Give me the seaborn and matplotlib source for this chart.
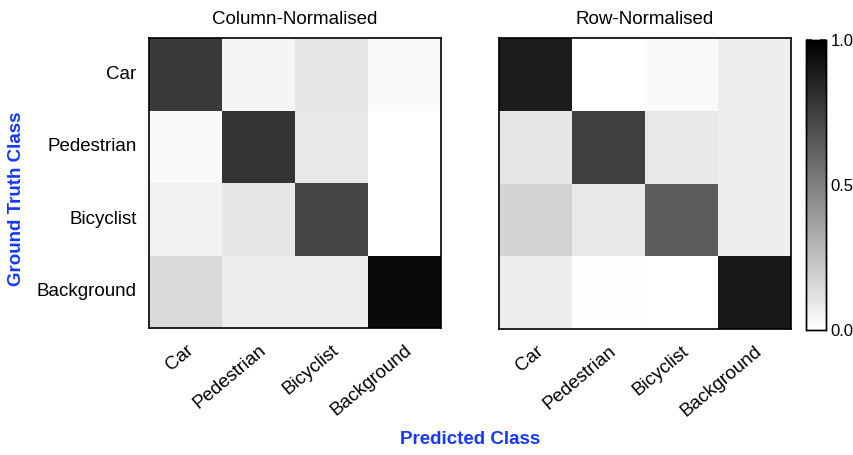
import numpy as np
import pandas as pd
import matplotlib
matplotlib.use("Agg")
import matplotlib.pyplot as plt
import seaborn as sns
from matplotlib.ticker import MultipleLocator

sns.set_theme(style="white")
plt.rcParams['font.family'] = ['Liberation Sans', 'DejaVu Sans']
plt.rcParams['text.color'] = 'black'
plt.rcParams['xtick.color'] = 'black'
plt.rcParams['ytick.color'] = 'black'
plt.rcParams['axes.labelcolor'] = 'black'

classes = ["Car", "Pedestrian", "Bicyclist", "Background"]
col_norm = [
    [0.77, 0.04, 0.10, 0.02],
    [0.02, 0.80, 0.09, 0.00],
    [0.055, 0.10, 0.73, 0.00],
    [0.145, 0.07, 0.07, 0.96],
]
row_norm = [
    [0.89, 0.00, 0.02, 0.07],
    [0.10, 0.75, 0.09, 0.07],
    [0.17, 0.09, 0.64, 0.07],
    [0.07, 0.005, 0.00, 0.91],
]

W, H = 854, 455
fig = plt.figure(figsize=(W / 100, H / 100), dpi=100)
ax1 = fig.add_axes([149 / W, 1 - 328 / H, 292 / W, 290 / H])
ax2 = fig.add_axes([499 / W, 1 - 329 / H, 292 / W, 291 / H])
cax = fig.add_axes([806 / W, 1 - 330 / H, 20 / W, 290 / H])

df1 = pd.DataFrame(col_norm, index=classes, columns=classes)
df2 = pd.DataFrame(row_norm, index=classes, columns=classes)

sns.heatmap(df1, ax=ax1, cmap="gray_r", vmin=0, vmax=1, cbar=False)
sns.heatmap(df2, ax=ax2, cmap="gray_r", vmin=0, vmax=1, cbar=True, cbar_ax=cax)

for ax, title in [(ax1, "Column-Normalised"), (ax2, "Row-Normalised")]:
    ax.set_title(title, fontsize=13.5, pad=10, color="black")
    for s in ax.spines.values():
        s.set_visible(True)
        s.set_color("black")
        s.set_linewidth(1.2)
    ax.tick_params(axis="both", length=0)
    ax.set_xticklabels(classes, rotation=40, ha="right", rotation_mode="anchor",
                       fontsize=13.5)
    ax.tick_params(axis="x", pad=10)
    for lbl in ax.get_xticklabels():
        lbl.set_x(lbl.get_position()[0])

ax1.set_yticklabels(classes, rotation=0, fontsize=13.5)
ax1.tick_params(axis="y", pad=9)
ax2.set_yticks([])

cax.yaxis.set_major_locator(MultipleLocator(0.5))
cax.yaxis.set_minor_locator(MultipleLocator(0.1))
cax.yaxis.set_major_formatter(matplotlib.ticker.FormatStrFormatter("%.1f"))
cax.tick_params(which="both", direction="in", right=True, left=True, color="#333333")
cax.tick_params(which="major", length=4, labelsize=12, labelcolor="black")
cax.tick_params(which="minor", length=3)
for s in cax.spines.values():
    s.set_visible(True)
    s.set_color("black")
    s.set_linewidth(1.0)

blue = "#1638ff"
fig.text(17 / W, 1 - 199 / H, "Ground Truth Class", rotation=90, ha="center",
         va="center", color=blue, fontsize=13.5, fontweight="bold")
fig.text(470 / W, 1 - 440 / H, "Predicted Class", ha="center", va="center",
         color=blue, fontsize=13.5, fontweight="bold")

fig.savefig("out.png", dpi=100)
